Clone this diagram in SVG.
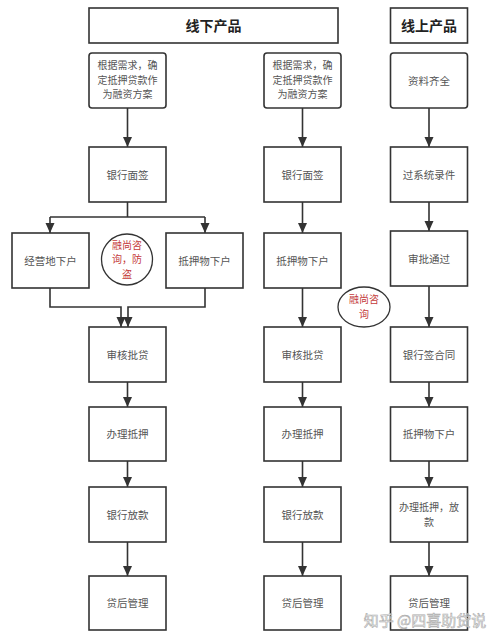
<svg xmlns="http://www.w3.org/2000/svg" width="500" height="642" viewBox="0 0 500 642">
<style>
.box{fill:#fff;stroke:#333;stroke-width:1.6}
.t{font-family:"Noto Sans CJK SC","Noto Sans",sans-serif;font-size:10.5px;fill:#555;text-anchor:middle}
.m{font-size:10px}
.h{font-family:"Noto Sans CJK SC","Noto Sans",sans-serif;font-size:14px;font-weight:bold;fill:#222;text-anchor:middle}
.r{font-family:"Noto Sans CJK SC","Noto Sans",sans-serif;font-size:10px;fill:#c43a3a;text-anchor:middle}
.c{fill:none;stroke:#333;stroke-width:1.6}
.a{marker-end:url(#ah)}
</style>
<defs>
<marker id="ah" markerUnits="userSpaceOnUse" markerWidth="10" markerHeight="10" refX="10" refY="4.5" orient="auto">
<path d="M0,0 L10,4.5 L0,9 z" fill="#333"/>
</marker>
</defs>
<rect width="500" height="642" fill="#fff"/>
<g id="connectors">
<path class="c a" d="M127.5 108 V147"/>
<path class="c" d="M127.5 202 V217 M50 217 H205"/>
<path class="c a" d="M50 217 V233"/>
<path class="c a" d="M205 217 V233"/>
<path class="c a" d="M50 288 V307 H121 V327"/>
<path class="c a" d="M205 288 V307 H128 V327"/>
<path class="c a" d="M127.5 382 V407"/>
<path class="c a" d="M127.5 461 V487"/>
<path class="c a" d="M127.5 542 V576"/>
<path class="c a" d="M302.5 108 V147"/>
<path class="c a" d="M302.5 202 V233"/>
<path class="c a" d="M302.5 288 V327"/>
<path class="c a" d="M302.5 382 V407"/>
<path class="c a" d="M302.5 461 V487"/>
<path class="c a" d="M302.5 542 V576"/>
<path class="c a" d="M429 108 V147"/>
<path class="c a" d="M429 202 V231"/>
<path class="c a" d="M429 286 V327"/>
<path class="c a" d="M429 382 V407"/>
<path class="c a" d="M429 461 V487"/>
<path class="c a" d="M429 542 V576"/>
</g>
<g id="h1"><rect class="box" x="89" y="8" width="249" height="35"/><text class="h" x="213.5" y="30.5">线下产品</text></g>
<g id="h2"><rect class="box" x="390.5" y="8" width="77" height="35"/><text class="h" x="429" y="30.5">线上产品</text></g>

<g id="n1a"><rect class="box" x="89" y="53" width="77" height="55" rx="3"/><text class="t m" x="127.5" y="69">根据需求，确<tspan x="127.5" dy="14.6">定抵押贷款作</tspan><tspan x="127.5" dy="14.6">为融资方案</tspan></text></g>
<g id="n1b"><rect class="box" x="89" y="147" width="77" height="55"/><text class="t" x="127.5" y="178.5">银行面签</text></g>
<g id="n1c"><rect class="box" x="12" y="233" width="77" height="55"/><text class="t" x="50.5" y="264.5">经营地下户</text></g>
<g id="n1d"><rect class="box" x="166" y="233" width="77" height="55"/><text class="t" x="204.5" y="264.5">抵押物下户</text></g>
<g id="note1"><circle cx="127" cy="259.5" r="25.5" fill="#fff" stroke="#333" stroke-width="1.3"/><text class="r" x="127" y="248.5">融尚咨<tspan x="127" dy="14.6">询，防</tspan><tspan x="127" dy="14.6">盗</tspan></text></g>
<g id="n1e"><rect class="box" x="89" y="327" width="77" height="55"/><text class="t" x="127.5" y="358.5">审核批贷</text></g>
<g id="n1f"><rect class="box" x="89" y="407" width="77" height="54"/><text class="t" x="127.5" y="438">办理抵押</text></g>
<g id="n1g"><rect class="box" x="89" y="487" width="77" height="55"/><text class="t" x="127.5" y="518.5">银行放款</text></g>
<g id="n1h"><rect class="box" x="89" y="576" width="77" height="54"/><text class="t" x="127.5" y="607">贷后管理</text></g>

<g id="n2a"><rect class="box" x="264" y="53" width="77" height="55" rx="3"/><text class="t m" x="302.5" y="69">根据需求，确<tspan x="302.5" dy="14.6">定抵押贷款作</tspan><tspan x="302.5" dy="14.6">为融资方案</tspan></text></g>
<g id="n2b"><rect class="box" x="264" y="147" width="77" height="55"/><text class="t" x="302.5" y="178.5">银行面签</text></g>
<g id="n2c"><rect class="box" x="264" y="233" width="77" height="55"/><text class="t" x="302.5" y="264.5">抵押物下户</text></g>
<g id="note2"><ellipse cx="364" cy="307" rx="26" ry="20" fill="#fff" stroke="#333" stroke-width="1.3"/><text class="r" x="364" y="303">融尚咨<tspan x="364" dy="14.6">询</tspan></text></g>
<g id="n2d"><rect class="box" x="264" y="327" width="77" height="55"/><text class="t" x="302.5" y="358.5">审核批贷</text></g>
<g id="n2e"><rect class="box" x="264" y="407" width="77" height="54"/><text class="t" x="302.5" y="438">办理抵押</text></g>
<g id="n2f"><rect class="box" x="264" y="487" width="77" height="55"/><text class="t" x="302.5" y="518.5">银行放款</text></g>
<g id="n2g"><rect class="box" x="264" y="576" width="77" height="54"/><text class="t" x="302.5" y="607">贷后管理</text></g>

<g id="n3a"><rect class="box" x="390.5" y="53" width="77" height="55" rx="3"/><text class="t" x="429" y="84.5">资料齐全</text></g>
<g id="n3b"><rect class="box" x="390.5" y="147" width="77" height="55"/><text class="t" x="429" y="178.5">过系统录件</text></g>
<g id="n3c"><rect class="box" x="390.5" y="231" width="77" height="55"/><text class="t" x="429" y="262.5">审批通过</text></g>
<g id="n3d"><rect class="box" x="390.5" y="327" width="77" height="55"/><text class="t" x="429" y="358.5">银行签合同</text></g>
<g id="n3e"><rect class="box" x="390.5" y="407" width="77" height="54"/><text class="t" x="429" y="438">抵押物下户</text></g>
<g id="n3f"><rect class="box" x="390.5" y="487" width="77" height="55"/><text class="t m" x="429" y="511">办理抵押，放<tspan x="429" dy="14.6">款</tspan></text></g>
<g id="n3g"><rect class="box" x="390.5" y="576" width="77" height="54"/><text class="t" x="429" y="607">贷后管理</text></g>

<text x="425" y="626" font-family="Noto Sans CJK SC,Noto Sans,sans-serif" font-size="15" fill="#fff" stroke="#aaa" stroke-width="0.6" fill-opacity="0.7" text-anchor="middle">知乎 @四喜助贷说</text>
</svg>
